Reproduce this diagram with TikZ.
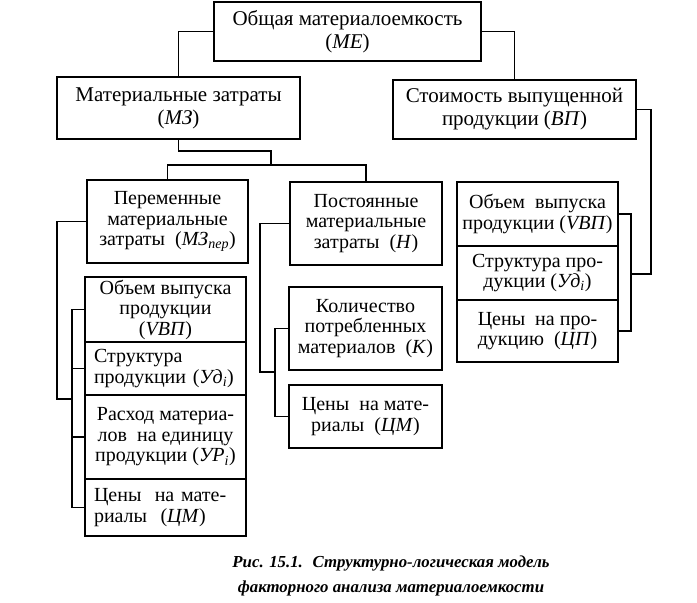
\documentclass[tikz,border=0pt]{standalone}
\usepackage{fontspec}
\setmainfont{Liberation Serif}
\begin{document}
\begin{tikzpicture}[x=1pt,y=-1pt,
  ln/.style={line width=1.3pt},
  bx/.style={draw,line width=1.3pt,inner sep=0pt,align=center},
  upf/.style={font=\fontsize{21}{23}\selectfont},
  lof/.style={font=\fontsize{20}{20.5}\selectfont},
  lbx/.style={bx,lof,text width=#1,align=left}]
\useasboundingbox (0,0) rectangle (697,603);
% top level
\node[bx,upf,minimum width=267pt,minimum height=59pt] (me) at (347.5,31.5) {Общая материалоемкость\\(\textit{МЕ})};
\node[bx,upf,minimum width=243pt,minimum height=62pt] (mz) at (178.5,108) {Материальные затраты\\(\textit{МЗ})};
\node[bx,upf,minimum width=243pt,minimum height=59pt] (vp) at (514.5,109.5) {Стоимость выпущенной\\продукции (\textit{ВП})};
% second level
\node[bx,lof,minimum width=161pt,minimum height=83pt] (per) at (167.5,221.5) {Переменные\\материальные\\затраты~ (\textit{МЗ\textsubscript{пер}})};
\node[bx,lof,minimum width=152pt,minimum height=83pt] (post) at (366,223.5) {Постоянные\\материальные\\затраты~ (\textit{Н})};
% left column
\node[bx,lof,minimum width=161pt,minimum height=65pt] (l1) at (165.5,309.5) {Объем выпуска\\продукции\\(\textit{VВП})};
\node[lbx=143pt,minimum width=161pt,minimum height=53pt] (l2) at (165.5,368.5) {Структура\\продукции (\textit{Уд\textsubscript{i}})};
\node[bx,lof,minimum width=161pt,minimum height=84pt] (l3) at (165.5,437) {Расход материа-\\лов~ на единицу\\продукции (\textit{УР\textsubscript{i}})};
\node[lbx=143pt,minimum width=161pt,minimum height=57pt] (l4) at (165.5,507.5) {Цены~ на мате-\\риалы~ (\textit{ЦМ})};
% middle column
\node[bx,lof,minimum width=153pt,minimum height=83pt] (m1) at (365.5,328.5) {Количество\\потребленных\\материалов~ (\textit{К})};
\node[bx,lof,minimum width=153pt,minimum height=63pt] (m2) at (365.5,416.5) {Цены~ на мате-\\риалы~ (\textit{ЦМ})};
% right column
\node[bx,lof,minimum width=161pt,minimum height=64pt] (r1) at (537.5,214) {Объем~ выпуска\\продукции (\textit{VВП})};
\node[bx,lof,minimum width=161pt,minimum height=54pt] (r2) at (537.5,273) {Структура про-\\дукции (\textit{Уд\textsubscript{i}})};
\node[bx,lof,minimum width=161pt,minimum height=62pt] (r3) at (537.5,331) {Цены~ на про-\\дукцию~ (\textit{ЦП})};
% caption
\node[align=center,font=\fontsize{16.8}{25}\selectfont\bfseries\itshape] (cap) at (391,575.5) {Рис. 15.1.~ Структурно-логическая модель\\факторного анализа материалоемкости};
% junction coordinates
\coordinate (a1) at (271,151);
\coordinate (a2) at (271,165);
\coordinate (b1) at (651,274);
\coordinate (b2) at (631,274);
\coordinate (c1) at (57,399);
\coordinate (c2) at (72,399);
\coordinate (d1) at (260,372);
\coordinate (d2) at (275,372);
% connectors
\draw[ln] (me.west) -| (mz.north);
\draw[ln] (me.east) -| (vp.north);
\draw[ln] (mz.south) |- (a1) -- (a2);
\draw[ln] (per.north) -- (per.north |- a2) -- (post.north |- a2) -- (post.north);
\draw[ln] (vp.east) -| (b1) -- (b2);
\draw[ln] (r1.east) -| (b2) |- (r3.east);
\draw[ln] (per.west) -| (c1) -- (c2);
\draw[ln] (l1.west) -| (c2 |- l4.west) -- (l4.west);
\draw[ln] (l2.west) -- (l2.west -| c2);
\draw[ln] (l3.west) -- (l3.west -| c2);
\draw[ln] (post.west) -| (d1) -- (d2);
\draw[ln] (m1.west) -| (d2 |- m2.west) -- (m2.west);
\end{tikzpicture}
\end{document}
